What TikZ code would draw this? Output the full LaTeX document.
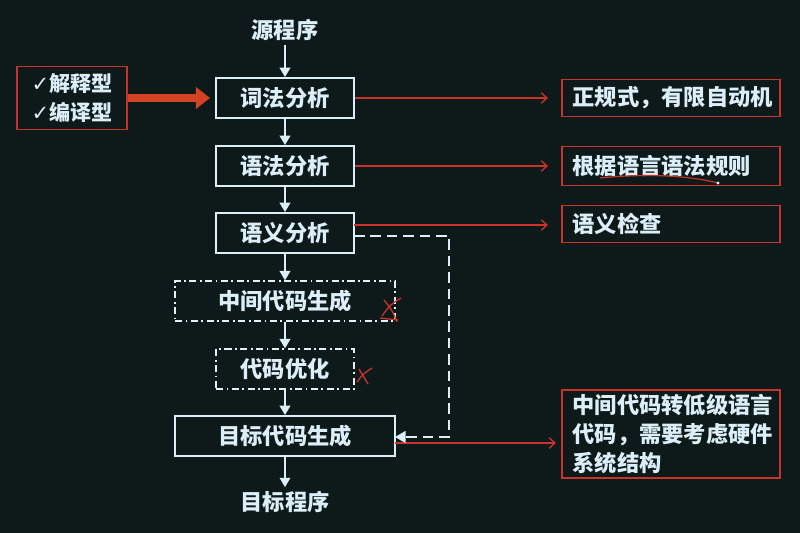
\documentclass[tikz,border=0pt]{standalone}
\usepackage{fontspec}
\setmainfont{Noto Sans CJK SC}
\newfontfamily\symf{DejaVu Sans}
\usetikzlibrary{arrows.meta}
\definecolor{bg}{HTML}{0E1A1A}
\definecolor{fg}{HTML}{DCEEF8}
\definecolor{rd}{HTML}{C8342C}
\begin{document}
\begin{tikzpicture}[x=0.03cm,y=-0.03cm,
  txt/.style={text=fg,font=\bfseries\fontsize{19}{22}\selectfont},
  stage/.style={txt,draw=fg,line width=1.6pt,minimum height=1.2cm,inner sep=0},
  skip/.style={txt,draw=fg!80,line width=1.1pt,dash pattern=on 6pt off 3pt on 1.5pt off 3pt,minimum height=1.2cm,inner sep=0},
  note/.style={txt,draw=rd,line width=1.4pt,minimum height=1.11cm,minimum width=6.54cm,text width=5.9cm,align=left,inner sep=0},
  flow/.style={draw=fg,line width=1.6pt,-{Triangle[width=9pt,length=8pt,fill=fg]}},
  rarr/.style={draw=rd,line width=1.1pt,-{Straight Barb[length=5pt,width=9pt]}}]
\fill[bg] (0,0) rectangle (800,533);
\useasboundingbox (0,0) rectangle (800,533);
\node[txt] (src) at (285,30) {源程序};
\node[stage,minimum width=4.14cm] (lex) at (285,98) {词法分析};
\node[stage,minimum width=4.14cm] (syn) at (285,166) {语法分析};
\node[stage,minimum width=4.14cm] (sem) at (285,233) {语义分析};
\node[skip,minimum width=6.6cm] (mid) at (285,301) {中间代码生成};
\node[skip,minimum width=4.14cm] (opt) at (285,369) {代码优化};
\node[stage,minimum width=6.6cm] (gen) at (285,436) {目标代码生成};
\node[txt] (dst) at (285,502) {目标程序};
\draw[flow] (src) -- (lex);
\draw[flow] (lex) -- (syn);
\draw[flow] (syn) -- (sem);
\draw[flow] (sem) -- (mid);
\draw[flow] (mid) -- (opt);
\draw[flow] (opt) -- (gen);
\draw[flow] (gen) -- (dst);
\node[txt,draw=rd,line width=1.4pt,minimum width=3.3cm,minimum height=1.9cm,align=left,inner sep=0,font=\bfseries\fontsize{18}{24}\selectfont] (mode) at (72,98) {{\symf ✓}解释型\\{\symf ✓}编译型};
\coordinate (modetip) at (210,98);
\draw[rd!80!orange,line width=6pt,-{Triangle[length=12pt,width=18pt]}] (mode.east) -- (modetip);
\node[note] (n1) at (671,98) {正规式，有限自动机};
\node[note,minimum height=1.17cm] (n2) at (671,166) {根据语言语法规则};
\node[note] (n3) at (671,224) {语义检查};
\node[note,minimum height=2.64cm,font=\bfseries\fontsize{19}{25}\selectfont] (n4) at (671,434) {中间代码转低级语言\\代码，需要考虑硬件\\系统结构};
\coordinate (a1) at (548,98);
\coordinate (a2) at (548,166);
\coordinate (a3) at (548,225);
\coordinate (a4) at (556,443);
\draw[rarr] (lex.east) -- (a1);
\draw[rarr] (syn.east) -- (a2);
\draw[rarr] (354,225) -- (a3);
\draw[rarr] (395,443) -- (a4);
\coordinate (d1) at (449,236);
\coordinate (d2) at (449,437);
\draw[fg,line width=1.6pt,dash pattern=on 9pt off 5pt,-{Triangle[width=10pt,length=9pt,fill=fg]}] (354,236) -- (d1) -- (d2) -- (395,437);
\draw[rd,line width=1.1pt] (382,316) .. controls (390,305) .. (401,298) (384,300) .. controls (392,310) .. (397,322) (380,318) -- (398,320);
\draw[rd,line width=1.1pt] (357,382) .. controls (363,374) .. (372,368) (359,369) .. controls (364,376) .. (368,384);
\draw[rd,line width=1pt] (600,178) .. controls (650,173) and (690,176) .. (718,183);
\fill[fg!70] (718,183) circle (1.6);
\end{tikzpicture}
\end{document}
